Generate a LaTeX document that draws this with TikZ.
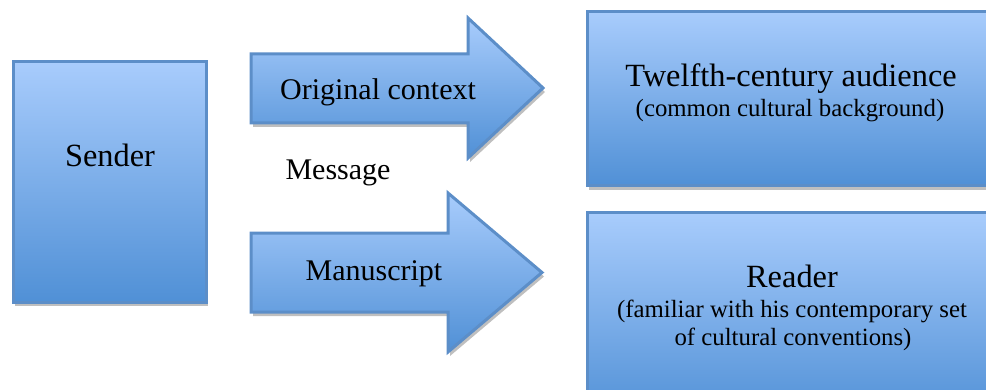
\documentclass[tikz,border=0pt]{standalone}
\usepackage{fontspec}
\setmainfont{Liberation Serif}
\usepackage{tikz}
\usetikzlibrary{shadows}

\definecolor{boxtop}{RGB}{168,204,252}
\definecolor{boxbot}{RGB}{80,144,214}
\definecolor{boxline}{RGB}{92,142,200}

\tikzset{
  blockbox/.style={top color=boxtop,bottom color=boxbot,draw=boxline,line width=1.5pt,
    drop shadow={shadow xshift=1pt,shadow yshift=-2pt,opacity=0.25,fill=black}},
  bigtxt/.style={anchor=base,font=\fontsize{16.2}{19}\selectfont},
  midtxt/.style={anchor=base,font=\fontsize{15}{18}\selectfont},
  subtxt/.style={anchor=base,font=\fontsize{12.4}{14}\selectfont}
}

\begin{document}
\begin{tikzpicture}[x=0.5pt,y=-0.5pt]
      \useasboundingbox (0,0) rectangle (986,390);
      \clip (0,0) rectangle (986,390);

      % boxes
      \node[blockbox,minimum width=96.5pt,minimum height=120pt] (sender) at (109.5,182) {};
      \node[blockbox,minimum width=211.5pt,minimum height=87pt] (audience) at (798.5,99) {};
      \node[blockbox,minimum width=211.5pt,minimum height=103.5pt] (reader) at (798.5,316.5) {};

      % arrows
      \path[blockbox] (251,54) -- (468,54) -- (468,18) -- (543,88) -- (468,158)
        -- (468,123) -- (251,123) -- cycle;
      \path[blockbox] (251,233) -- (448,233) -- (448,193) -- (542,272.5) -- (448,352)
        -- (448,312) -- (251,312) -- cycle;

      % texts
      \node[bigtxt] (sendertxt) at (110,167) {Sender};
      \node[midtxt] (msgtxt) at (338,180) {Message};
      \node[midtxt] (origtxt) at (378,100) {Original context};
      \node[midtxt] (mantxt) at (374,280) {Manuscript};
      \node[bigtxt] (audtxt) at (791,87) {Twelfth-century audience};
      \node[subtxt] (audsub) at (790,117) {(common cultural background)};
      \node[bigtxt] (readtxt) at (792,287) {Reader};
      \node[subtxt] (readsuba) at (792,317) {(familiar with his contemporary set};
      \node[subtxt] (readsubb) at (793,345) {of cultural conventions)};
\end{tikzpicture}
\end{document}
